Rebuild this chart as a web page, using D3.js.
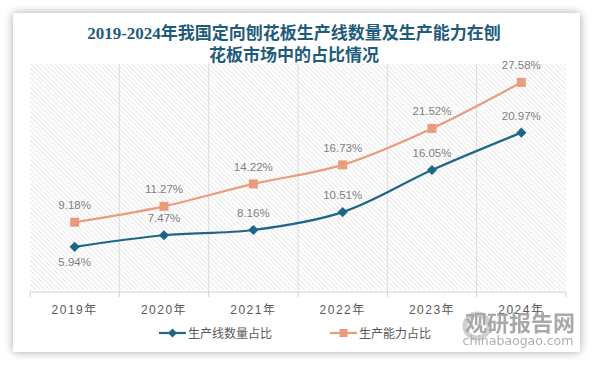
<!DOCTYPE html>
<html><head><meta charset="utf-8">
<script src="https://cdn.jsdelivr.net/npm/d3@7"></script>
<style>
html,body{margin:0;padding:0;background:#fff;}
svg{display:block;}
</style></head>
<body>
<svg id="c" width="594" height="366"></svg>
<script>
const categories = ["2019年","2020年","2021年","2022年","2023年","2024年"];
const lineShare = [5.94, 7.47, 8.16, 10.51, 16.05, 20.97];
const capacityShare = [9.18, 11.27, 14.22, 16.73, 21.52, 27.58];
const seriesNames = ["生产线数量占比","生产能力占比"];
const titleLines = ["2019-2024年我国定向刨花板生产线数量及生产能力在刨","花板市场中的占比情况"];
const colors = ["#1d6688","#e99c7b"];

const svg = d3.select("#c");
const defs = svg.append("defs");
const sh = defs.append("filter").attr("id","sh").attr("x","-10%").attr("y","-10%").attr("width","120%").attr("height","120%");
sh.append("feGaussianBlur").attr("in","SourceAlpha").attr("stdDeviation",5);
sh.append("feOffset").attr("dx",0).attr("dy",0).attr("result","b");
sh.append("feComponentTransfer").append("feFuncA").attr("type","linear").attr("slope",0.35);
const mg = sh.append("feMerge"); mg.append("feMergeNode"); mg.append("feMergeNode").attr("in","SourceGraphic");

const pat = defs.append("pattern").attr("id","hatch").attr("patternUnits","userSpaceOnUse")
  .attr("width",3.4).attr("height",3.4).attr("patternTransform","rotate(-45)");
pat.append("line").attr("x1",0).attr("y1",0).attr("x2",0).attr("y2",3.4)
  .attr("stroke","#dadada").attr("stroke-width",1.2);

// card
svg.append("rect").attr("x",13).attr("y",13).attr("width",567).attr("height",339)
  .attr("fill","#fff").attr("filter","url(#sh)");

const m = {left:30, right:566, top:64, bottom:292};
const x = d3.scaleBand().domain(categories).range([m.left, m.right]);
const y = d3.scaleLinear().domain([0,30]).range([m.bottom, m.top]);

svg.append("rect").attr("x",m.left).attr("y",m.top).attr("width",m.right-m.left).attr("height",m.bottom-m.top-2)
  .attr("fill","url(#hatch)");

// vertical grid lines at band boundaries
const bounds = categories.slice(1).map(c => x(c));
svg.append("g").selectAll("line").data(bounds).join("line")
  .attr("x1",d=>d).attr("x2",d=>d).attr("y1",m.top).attr("y2",m.bottom)
  .attr("stroke","#dcdcdc").attr("stroke-width",1);

// x axis
const xAxis = d3.axisBottom(x).tickSize(0).tickPadding(13);
const gx = svg.append("g").attr("transform",`translate(0,${m.bottom})`).call(xAxis);
gx.select(".domain").attr("stroke","#d0d0d0").attr("d",`M${m.left},0H${m.right}`);
gx.selectAll(".tick text").attr("fill","#595959").attr("font-size","12px")
  .attr("font-family","'Liberation Sans','Noto Sans CJK SC',sans-serif").attr("letter-spacing","1.5px");
const tickPos = categories.map(c=>x(c)).concat([m.right]);
gx.append("g").selectAll("line").data(tickPos).join("line")
  .attr("x1",d=>d).attr("x2",d=>d).attr("y1",0).attr("y2",5).attr("stroke","#d0d0d0");

// lines
const cx = c => x(c) + x.bandwidth()/2;
const line = d3.line().x(d=>cx(d.c)).y(d=>y(d.v)).curve(d3.curveCatmullRom.alpha(0.5));
const series = [lineShare, capacityShare].map((arr,i)=>arr.map((v,j)=>({c:categories[j], v, i})));

series.forEach((s,i)=>{
  svg.append("path").datum(s).attr("d",line).attr("fill","none")
    .attr("stroke",colors[i]).attr("stroke-width",2.2);
});
// markers
svg.append("g").selectAll("rect").data(series[0]).join("rect")
  .attr("x",-3.6).attr("y",-3.6).attr("width",7.2).attr("height",7.2)
  .attr("transform",d=>`translate(${cx(d.c)},${y(d.v)}) rotate(45)`).attr("fill",colors[0]);
svg.append("g").selectAll("rect").data(series[1]).join("rect")
  .attr("x",d=>cx(d.c)-4.5).attr("y",d=>y(d.v)-4.5).attr("width",9).attr("height",9).attr("fill",colors[1]);

// labels
const lblFont = "'Liberation Sans',sans-serif";
series.forEach((s,i)=>{
  svg.append("g").selectAll("text").data(s).join("text")
    .attr("x",d=>cx(d.c)).attr("y",(d,j)=> (i===0 && j===0) ? y(d.v)+19 : y(d.v)-13)
    .attr("text-anchor","middle").attr("fill","#7f7f7f").attr("font-size","11.5px")
    .attr("font-family",lblFont).text(d=>d.v.toFixed(2)+"%");
});

// title
svg.append("g").selectAll("text").data(titleLines).join("text")
  .attr("x",294).attr("y",(d,i)=>39+i*21.5).attr("text-anchor","middle")
  .attr("fill","#1f5b7b").attr("font-weight","bold").attr("font-size","17px")
  .attr("font-family","'Liberation Serif','Noto Sans CJK SC',serif").text(d=>d);

// legend
const lg = svg.append("g");
const legX = [159, 330];
seriesNames.forEach((n,i)=>{
  const g = lg.append("g").attr("transform",`translate(${legX[i]},333)`);
  g.append("line").attr("x1",0).attr("x2",27).attr("y1",0).attr("y2",0).attr("stroke",colors[i]).attr("stroke-width",2.2);
  if(i===0) g.append("rect").attr("x",-3.2).attr("y",-3.2).attr("width",6.4).attr("height",6.4).attr("transform","translate(13.5,0) rotate(45)").attr("fill",colors[i]);
  else g.append("rect").attr("x",9.5).attr("y",-4).attr("width",8).attr("height",8).attr("fill",colors[i]);
  g.append("text").attr("x",29).attr("y",4.5).attr("fill","#595959").attr("font-size","12px")
    .attr("font-family","'Noto Sans CJK SC',sans-serif").text(n);
});

// watermark (overlaps the last axis label, as in the reference)
const wm = svg.append("g").attr("opacity",0.85);
wm.append("circle").attr("cx",477).attr("cy",326).attr("r",12).attr("fill","none").attr("stroke","#c8c8c8").attr("stroke-width",5);
wm.append("text").attr("x",520).attr("y",331).attr("text-anchor","middle").attr("font-size","22px").attr("font-weight","bold")
  .attr("fill","#9a9a9a").attr("font-family","'Noto Sans CJK SC',sans-serif").text("观研报告网");
wm.append("text").attr("x",518).attr("y",345).attr("text-anchor","middle").attr("font-size","12.5px")
  .attr("fill","#a0a0a0").attr("font-family","'DejaVu Sans',sans-serif").text("chinabaogao.com");
</script>
</body></html>
